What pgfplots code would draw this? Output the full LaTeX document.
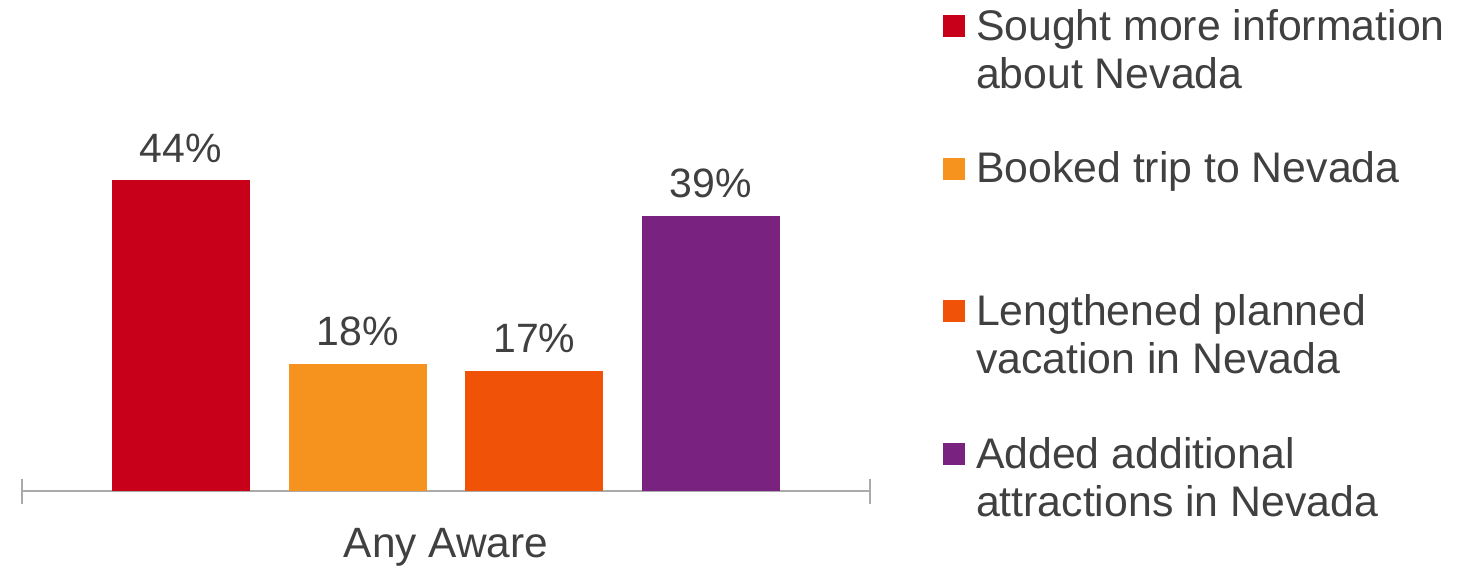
\documentclass[border=0pt]{standalone}
\usepackage{pgfplots}
\pgfplotsset{compat=1.18}
\usepackage{fontspec}
\setmainfont{Liberation Sans}
\definecolor{cRed}{RGB}{200,0,26}
\definecolor{cOrange}{RGB}{246,146,30}
\definecolor{cDark}{RGB}{240,82,8}
\definecolor{cPurple}{RGB}{122,34,128}
\definecolor{txt}{RGB}{64,64,64}
\definecolor{axgray}{RGB}{170,170,170}
\begin{document}
\begin{tikzpicture}
\begin{axis}[
  scale only axis,
  width=424pt, height=194.15pt,
  xmin=-0.9, xmax=3.9, ymin=0, ymax=55,
  clip=false,
  ybar,
  axis x line*=bottom, axis y line=none,
  axis line style={draw=axgray, line width=1pt},
  ytick=\empty,
  xtick={1.5}, xticklabels={Any Aware},
  major tick length=0pt,
  xticklabel style={font=\fontsize{21.2}{24}\selectfont, text=txt, anchor=base, yshift=-33pt, inner sep=0pt},
  extra x ticks={-0.9,3.9}, extra x tick labels={},
  extra x tick style={major tick length=12.5pt, tick align=center, tick style={draw=axgray, line width=1pt}},
  /pgf/number format/assume math mode=true,
  nodes near coords={\pgfmathprintnumber{\pgfplotspointmeta}\%},
  every node near coord/.append style={font=\fontsize{20.5}{23}\selectfont, text=txt, anchor=base, yshift=9pt, inner sep=0pt},
  every axis plot post/.append style={bar shift=0pt, bar width=0.781, draw=none,
    legend image code/.code={\fill[##1,draw=none] (0pt,5.95pt) rectangle (11pt,16.95pt);}},
  legend cell align=left,
  legend style={at={(axis description cs:1.0861,1.2725)}, anchor=north west,
    draw=none, fill=none, inner sep=0pt, outer sep=0pt,
    row sep=19.35pt, column sep=5.5pt,
    nodes={align=left, inner sep=0pt, minimum height=52pt, font=\fontsize{21.4}{24}\selectfont, text=txt}},
]
\addplot[fill=cRed] coordinates {(0,44)};
\addlegendentry{\strut Sought more information\\\strut about Nevada}
\addplot[fill=cOrange] coordinates {(1,18)};
\addlegendentry{\strut Booked trip to Nevada\\\strut}
\addplot[fill=cDark] coordinates {(2,17)};
\addlegendentry{\strut Lengthened planned\\\strut vacation in Nevada}
\addplot[fill=cPurple] coordinates {(3,39)};
\addlegendentry{\strut Added additional\\\strut attractions in Nevada}
\coordinate (bbsw) at (axis description cs:-0.025943,-0.198300);
\coordinate (bbne) at (axis description cs:1.711085,1.264486);
\end{axis}
\pgfresetboundingbox
\path[use as bounding box] (bbsw) rectangle (bbne);
\end{tikzpicture}
\end{document}
